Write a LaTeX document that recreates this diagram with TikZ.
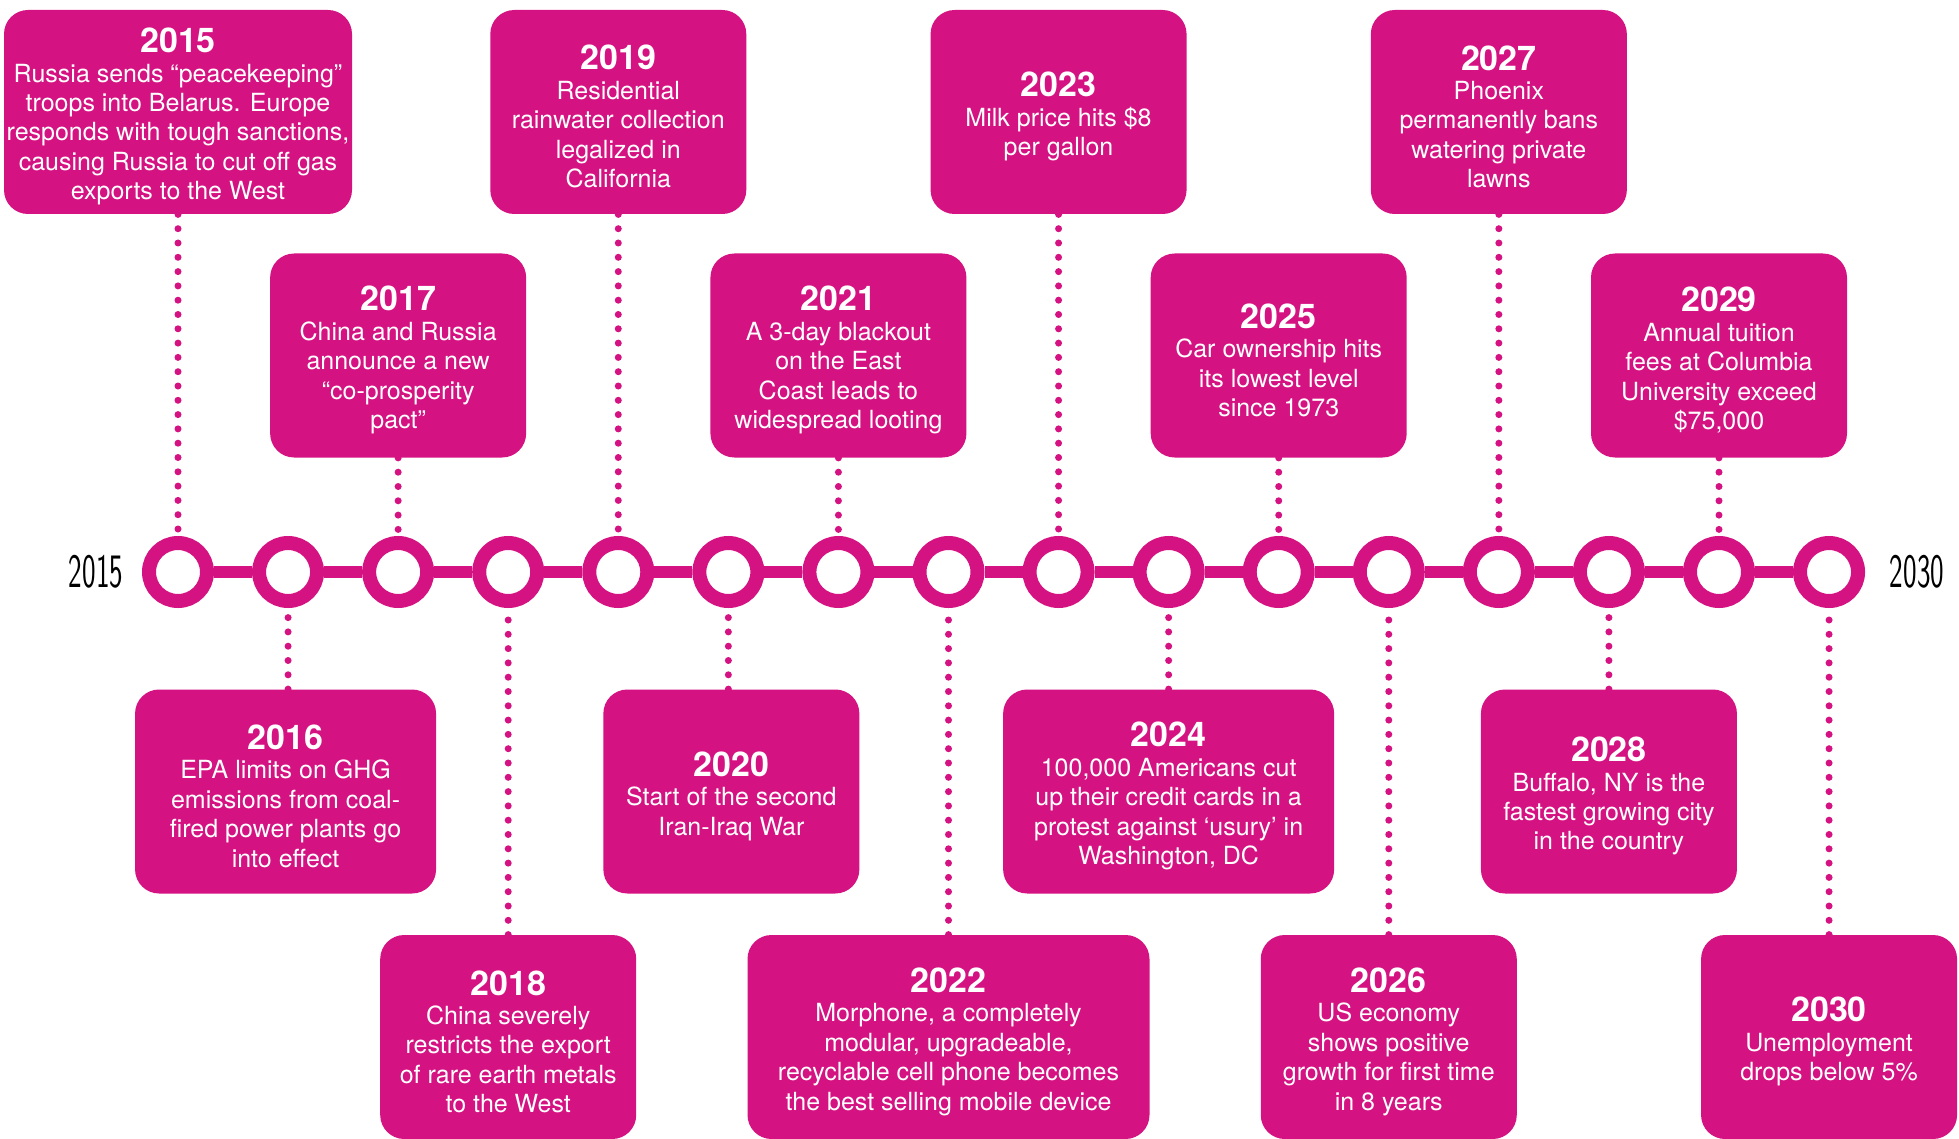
\documentclass[tikz,border=0pt]{standalone}
\usepackage{fontspec}
\setmainfont{TeX Gyre Heros}
\definecolor{mag}{RGB}{213,18,130}
\tikzset{
  evbox/.style={fill=mag, rounded corners=12pt, minimum height=102pt, text=white,
    align=center, inner sep=0pt, font=\fontsize{12.5}{14.7}\selectfont},
  ring/.style={circle, draw=mag, line width=7pt, fill=white, minimum size=29pt, inner sep=0pt},
  bar/.style={draw=mag, line width=5.65pt},
  dots/.style={draw=mag, line width=3.5pt, line cap=round, dash pattern=on 0pt off 7.15pt},
  endlabel/.style={font=\fontsize{24}{24}\sffamily, xscale=0.6, inner sep=0pt},
}
\newcommand\yr[1]{{\rule{0pt}{17pt}\fontsize{17}{14.7}\selectfont\bfseries #1}}
\begin{document}
\begin{tikzpicture}[x=0.5pt, y=-0.5pt]
\useasboundingbox (0,0) rectangle (1959,1139);
% timeline circles
\foreach \i in {1,...,16}
  \node[ring] (c\i) at ({178+110.07*(\i-1)},572) {};
\foreach \i [evaluate=\i as \j using int(\i+1)] in {1,...,15}
  \draw[bar] (c\i.east) -- (c\j.west);
\node[endlabel] (l2015) at (96,572) {2015};
\node[endlabel] (l2030) at (1917,572) {2030};
% row A (top)
\node[evbox, minimum width=174pt] (b2015) at (c1 |- 0,112) {\yr{2015}\\Russia sends “peacekeeping”\\troops into Belarus. Europe\\responds with tough sanctions,\\causing Russia to cut off gas\\exports to the West};
\node[evbox, minimum width=128pt] (b2019) at (c5 |- 0,112) {\yr{2019}\\Residential\\rainwater collection\\legalized in\\California};
\node[evbox, minimum width=128pt] (b2023) at (c9 |- 0,112) {\yr{2023}\\Milk price hits \$8\\per gallon};
\node[evbox, minimum width=128pt] (b2027) at (c13 |- 0,112) {\yr{2027}\\Phoenix\\permanently bans\\watering private\\lawns};
% row B
\node[evbox, minimum width=128pt] (b2017) at (c3 |- 0,355.5) {\yr{2017}\\China and Russia\\announce a new\\“co-prosperity\\pact”};
\node[evbox, minimum width=128pt] (b2021) at (c7 |- 0,355.5) {\yr{2021}\\A 3-day blackout\\on the East\\Coast leads to\\widespread looting};
\node[evbox, minimum width=128pt] (b2025) at (c11 |- 0,355.5) {\yr{2025}\\Car ownership hits\\its lowest level\\since 1973};
\node[evbox, minimum width=128pt] (b2029) at (c15 |- 0,355.5) {\yr{2029}\\Annual tuition\\fees at Columbia\\University exceed\\\$75,000};
% row C
\node[evbox, minimum width=150.5pt] (b2016) at ([xshift=-1.25pt]c2 |- 0,791.5) {\yr{2016}\\EPA limits on GHG\\emissions from coal-\\fired power plants go\\into effect};
\node[evbox, minimum width=128pt] (b2020) at ([xshift=1.5pt]c6 |- 0,791.5) {\yr{2020}\\Start of the second\\Iran-Iraq War};
\node[evbox, minimum width=165.5pt] (b2024) at (c10 |- 0,791.5) {\yr{2024}\\100,000 Americans cut\\up their credit cards in a\\protest against ‘usury’ in\\Washington, DC};
\node[evbox, minimum width=128pt] (b2028) at (c14 |- 0,791.5) {\yr{2028}\\Buffalo, NY is the\\fastest growing city\\in the country};
% row D
\node[evbox, minimum width=128pt] (b2018) at (c4 |- 0,1037) {\yr{2018}\\China severely\\restricts the export\\of rare earth metals\\to the West};
\node[evbox, minimum width=201pt] (b2022) at (c8 |- 0,1037) {\yr{2022}\\Morphone, a completely\\modular, upgradeable,\\recyclable cell phone becomes\\the best selling mobile device};
\node[evbox, minimum width=128pt] (b2026) at (c12 |- 0,1037) {\yr{2026}\\US economy\\shows positive\\growth for first time\\in 8 years};
\node[evbox, minimum width=128pt] (b2030) at (c16 |- 0,1037) {\yr{2030}\\Unemployment\\drops below 5\%};
% dotted connectors
\draw[dots] (b2015.south) -- (c1.north);
\draw[dots] (b2016.north -| c2) -- (c2.south);
\draw[dots] (b2017.south) -- (c3.north);
\draw[dots] (b2018.north) -- (c4.south);
\draw[dots] (b2019.south) -- (c5.north);
\draw[dots] (b2020.north -| c6) -- (c6.south);
\draw[dots] (b2021.south) -- (c7.north);
\draw[dots] (b2022.north) -- (c8.south);
\draw[dots] (b2023.south) -- (c9.north);
\draw[dots] (b2024.north) -- (c10.south);
\draw[dots] (b2025.south) -- (c11.north);
\draw[dots] (b2026.north) -- (c12.south);
\draw[dots] (b2027.south) -- (c13.north);
\draw[dots] (b2028.north) -- (c14.south);
\draw[dots] (b2029.south) -- (c15.north);
\draw[dots] (b2030.north) -- (c16.south);
\end{tikzpicture}
\end{document}
